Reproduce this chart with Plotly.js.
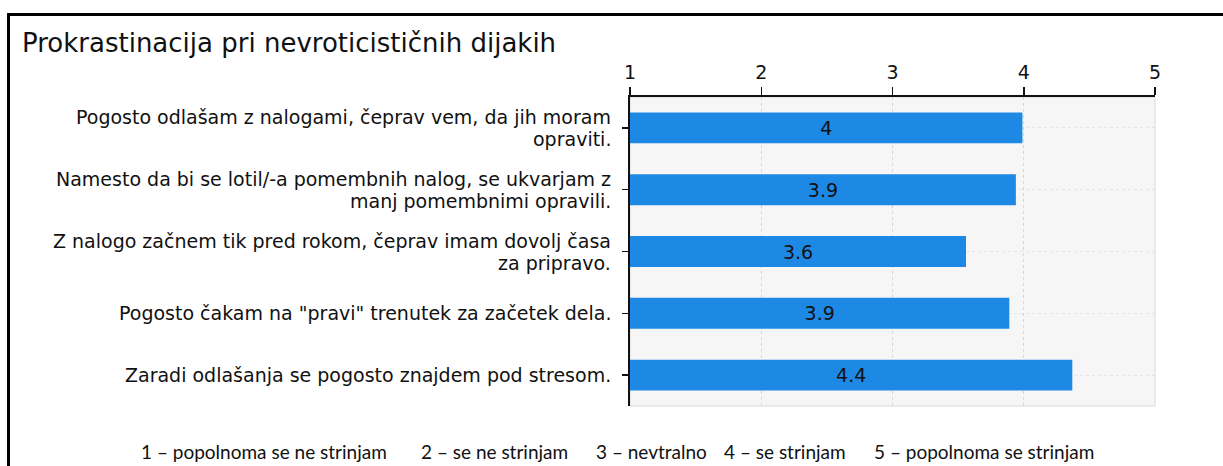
<!DOCTYPE html>
<html>
<head>
<meta charset="utf-8">
<script src="https://cdn.plot.ly/plotly-3.0.1.min.js"></script>
<style>
  html, body { margin: 0; padding: 0; background: #fff; }
  #wrap { position: relative; width: 1223px; height: 466px; overflow: hidden; }
  #chart { position: absolute; left: 0; top: 0; width: 1223px; height: 466px; }
  #frame { position: absolute; left: 7px; top: 13px; width: 1400px; height: 600px;
           border: 3px solid #000; pointer-events: none; box-sizing: border-box; }
</style>
</head>
<body>
<div id="wrap">
  <div id="chart"></div>
  <div id="frame"></div>
</div>
<script>
const chartTitle = "Prokrastinacija pri nevroticističnih dijakih";
const categories = [
  "Pogosto odlašam z nalogami, čeprav vem, da jih moram<br>opraviti.",
  "Namesto da bi se lotil/-a pomembnih nalog, se ukvarjam z<br>manj pomembnimi opravili.",
  "Z nalogo začnem tik pred rokom, čeprav imam dovolj časa<br>za pripravo.",
  "Pogosto čakam na \"pravi\" trenutek za začetek dela.",
  "Zaradi odlašanja se pogosto znajdem pod stresom."
];
const values = [3.99, 3.94, 3.56, 3.89, 4.37];
const valueLabels = ["4", "3.9", "3.6", "3.9", "4.4"];
const tickValues = [1, 2, 3, 4, 5];
const scaleLabels = [
  "1 – popolnoma se ne strinjam",
  "2 – se ne strinjam",
  "3 – nevtralno",
  "4 – se strinjam",
  "5 – popolnoma se strinjam"
];

// layout geometry (pixels)
const W = 1223, H = 466;
const plotL = 630, plotR = 1155, plotT = 97, plotB = 406;
const footerX = [140, 420, 595, 723, 873];
const footerY = 451;
const labelGap = 18;     // px between label right edge and axis line
const labelLine = 22;    // px between wrapped label lines
const scaleMin = tickValues[0];

const pw = plotR - plotL, ph = plotB - plotT;
const labelFont = { family: "DejaVu Sans", size: 19, color: "#111" };

const trace = {
  type: "bar",
  orientation: "h",
  y: categories,
  x: values.map(v => v - scaleMin),
  base: scaleMin,
  text: valueLabels,
  textposition: "inside",
  insidetextanchor: "middle",
  textangle: 0,
  textfont: { family: "DejaVu Sans", size: 19, color: "#111" },
  marker: { color: "#1E88E5", line: { width: 0 } },
  width: 0.5,
  hoverinfo: "none"
};

const annotations = [];
// category labels, one annotation per wrapped line (tight line spacing)
categories.forEach((c, i) => {
  const lines = c.split("<br>");
  lines.forEach((ln, k) => {
    annotations.push({
      text: ln,
      xref: "paper", yref: "y",
      x: 0, y: i,
      xanchor: "right", yanchor: "middle",
      xshift: -labelGap,
      yshift: ((lines.length - 1) / 2 - k) * labelLine,
      showarrow: false,
      borderpad: 0,
      font: labelFont
    });
  });
});
// footer scale legend
scaleLabels.forEach((t, i) => {
  annotations.push({
    text: t,
    xref: "paper", yref: "paper",
    x: (footerX[i] - plotL) / pw,
    y: (plotB - footerY) / ph,
    xanchor: "left", yanchor: "middle",
    showarrow: false,
    borderpad: 0,
    font: { family: "Lato, 'Open Sans', sans-serif", size: 19, color: "#111" }
  });
});

const layout = {
  width: W, height: H,
  margin: { l: plotL, r: W - plotR, t: plotT, b: H - plotB, pad: 0 },
  paper_bgcolor: "#ffffff",
  plot_bgcolor: "#f6f6f6",
  showlegend: false,
  title: {
    text: chartTitle,
    xref: "container", yref: "container",
    x: 22 / W, xanchor: "left",
    y: 1 - 43 / H, yanchor: "middle",
    font: { family: "DejaVu Sans", size: 26, color: "#111" }
  },
  xaxis: {
    side: "top",
    range: [1, 5],
    tickvals: tickValues,
    ticktext: tickValues.map(String),
    showline: true, linecolor: "#111", linewidth: 2,
    ticks: "outside", ticklen: 8, tickwidth: 1.5, tickcolor: "#111",
    showgrid: true, gridcolor: "#d6d6d6", griddash: "dot", gridwidth: 1,
    zeroline: false,
    tickfont: { family: "DejaVu Sans", size: 19, color: "#111" },
    fixedrange: true
  },
  yaxis: {
    type: "category",
    categoryorder: "array",
    categoryarray: categories,
    autorange: "reversed",
    showticklabels: false,
    showline: true, linecolor: "#111", linewidth: 2,
    ticks: "outside", ticklen: 6, tickwidth: 1.5, tickcolor: "#111",
    showgrid: true, gridcolor: "#e4e4e4", griddash: "dot", gridwidth: 1,
    zeroline: false,
    fixedrange: true
  },
  shapes: [{
    type: "rect", xref: "paper", yref: "paper",
    x0: 0, x1: 1, y0: 0, y1: 1,
    line: { color: "#d9d9d9", width: 1 },
    layer: "below"
  }],
  annotations: annotations
};

Plotly.newPlot("chart", [trace], layout, { staticPlot: true, displayModeBar: false });
</script>
</body>
</html>
